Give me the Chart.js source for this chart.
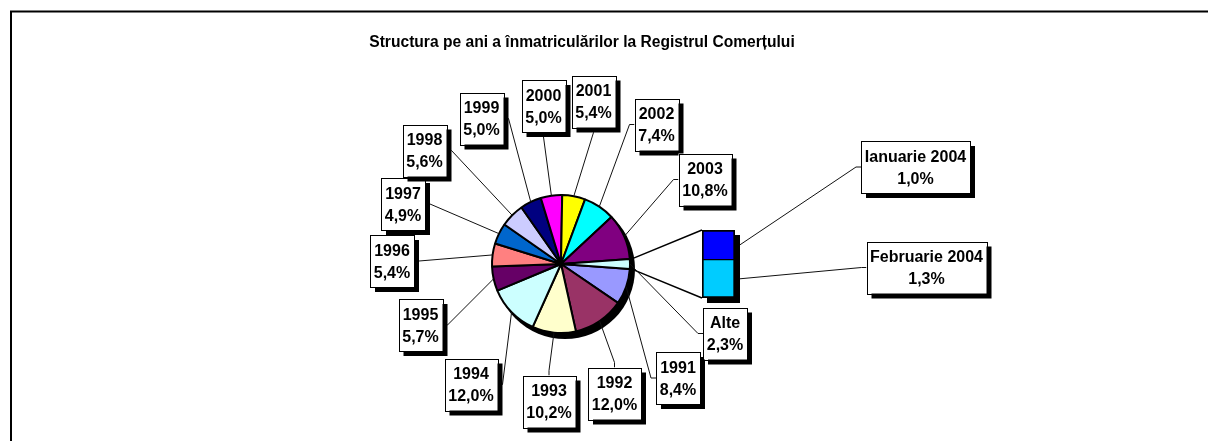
<!DOCTYPE html>
<html>
<head>
<meta charset="utf-8">
<script src="https://cdn.jsdelivr.net/npm/chart.js@4"></script>
<style>
  html, body { margin: 0; padding: 0; background: #fff; }
  #wrap { position: relative; width: 1208px; height: 441px; overflow: hidden; }
  #pieChart { position: absolute; left: 0; top: 0; }
  #barChart { position: absolute; left: 700px; top: 228px; }
</style>
</head>
<body>
<div id="wrap">
  <canvas id="pieChart" width="1208" height="441"></canvas>
  <canvas id="barChart" width="46" height="80"></canvas>
</div>
<script>
const chartTitle = 'Structura pe ani a înmatriculărilor la Registrul Comerțului';

// pie: years + the "Alte" slice that is broken out into the bar
const pieLabels = ['1991', '1992', '1993', '1994', '1995', '1996', '1997',
                   '1998', '1999', '2000', '2001', '2002', '2003', 'Alte'];
const pieValues = [8.4, 12.0, 10.2, 12.0, 5.7, 5.4, 4.9, 5.6, 5.0, 5.0, 5.4, 7.4, 10.8, 2.3];

// bar of pie: what "Alte" is made of
const barLabels = ['Ianuarie 2004', 'Februarie 2004'];
const barValues = [1.0, 1.3];

const pieColors = ['#9999FF', '#993366', '#FFFFCC', '#CCFFFF', '#660066', '#FF8080', '#0066CC',
                   '#CCCCFF', '#000080', '#FF00FF', '#FFFF00', '#00FFFF', '#800080', '#CCFFFF'];
const barColors = ['#0000FF', '#00CCFF'];

// label box centres (canvas px)
const boxPos = {
  '1991': [678, 378], '1992': [614.5, 393.5], '1993': [549, 401.5], '1994': [471, 384.5],
  '1995': [420.5, 325], '1996': [392, 261], '1997': [403, 204], '1998': [424.5, 150.5],
  '1999': [481.5, 118.5], '2000': [543.5, 106], '2001': [593.5, 101.5], '2002': [656.5, 124.5],
  '2003': [705, 179.5], 'Alte': [725, 333.5],
  'Ianuarie 2004': [915.5, 167], 'Februarie 2004': [926.5, 267.5]
};

const FONT = '"Liberation Sans", Arial, sans-serif';
const fmt = v => v.toFixed(1).replace('.', ',') + '%';

const total = pieValues.reduce((a, b) => a + b, 0);
// Excel puts the split-off slice at 3 o'clock
const otherDeg = pieValues[pieValues.length - 1] / total * 360;
const pieRotation = 90 + otherDeg / 2;

// ---------- bar (second plot) ----------
const barShadow = {
  id: 'barShadow',
  beforeDatasetsDraw(chart) {
    const els = chart.data.datasets.map((_, i) => chart.getDatasetMeta(i).data[0]);
    const top = Math.min(...els.map(e => e.y));
    const bottom = Math.max(...els.map(e => e.base));
    const e = els[0];
    const ctx = chart.ctx;
    ctx.save();
    ctx.fillStyle = '#000';
    ctx.fillRect(e.x - e.width / 2 + 5, top + 5, e.width, bottom - top);
    ctx.restore();
  }
};

const barDatasets = barLabels.map((label, i) => ({
  label: label,
  data: [barValues[i]],
  backgroundColor: barColors[i],
  borderColor: '#000',
  borderWidth: i === 0 ? { top: 2, bottom: 1, left: 2, right: 2 } : { top: 1, bottom: 2, left: 2, right: 2 },
  borderSkipped: false,
  barPercentage: 1,
  categoryPercentage: 1
})).reverse(); // first label sits on top of the stack

const barChart = new Chart(document.getElementById('barChart'), {
  type: 'bar',
  data: { labels: ['2004'], datasets: barDatasets },
  options: {
    responsive: false,
    animation: false,
    events: [],
    layout: { padding: { left: 2, top: 2, right: 11, bottom: 10 } },
    plugins: { legend: { display: false }, tooltip: { enabled: false } },
    scales: {
      x: { stacked: true, display: false },
      y: { stacked: true, display: false, min: 0, max: barValues.reduce((a, b) => a + b, 0) }
    }
  },
  plugins: [barShadow]
});

// ---------- pie ----------
function attach(box, px, py) {
  if (px < box.l) return [[box.l - 5, box.cy], [box.l, box.cy]];
  if (px > box.r) return [[box.r + 5, box.cy], [box.r, box.cy]];
  if (py < box.t) return [[box.cx, box.t - 5], [box.cx, box.t]];
  return [[box.cx, box.b + 5], [box.cx, box.b]];
}

function makeBox(ctx, label, value) {
  const lines = [label, fmt(value)];
  const w = Math.ceil(Math.max(...lines.map(s => ctx.measureText(s).width))) + 7;
  const h = 52;
  const [cx, cy] = boxPos[label];
  return { lines, cx, cy, l: cx - w / 2, r: cx + w / 2, t: cy - h / 2, b: cy + h / 2, w, h };
}

const frameAndTitle = {
  id: 'frameAndTitle',
  beforeDraw(chart) {
    const ctx = chart.ctx;
    ctx.save();
    ctx.strokeStyle = '#000';
    ctx.lineWidth = 2;
    ctx.strokeRect(11, 11.5, 1400, 600);
    ctx.fillStyle = '#000';
    ctx.font = 'bold 15.6px ' + FONT;
    ctx.textAlign = 'center';
    ctx.textBaseline = 'alphabetic';
    ctx.fillText(chartTitle, 582, 47);
    ctx.restore();
  }
};

const pieShadow = {
  id: 'pieShadow',
  beforeDatasetsDraw(chart) {
    const a = chart.getDatasetMeta(0).data[0];
    const ctx = chart.ctx;
    ctx.save();
    ctx.fillStyle = '#000';
    ctx.beginPath();
    ctx.arc(a.x + 4, a.y + 5, a.outerRadius + 1, 0, Math.PI * 2);
    ctx.fill();
    ctx.restore();
  }
};

const callouts = {
  id: 'callouts',
  afterDraw(chart) {
    const ctx = chart.ctx;
    const arcs = chart.getDatasetMeta(0).data;
    ctx.save();
    ctx.font = 'bold 16px ' + FONT;

    const boxes = [];
    const leaders = [];

    // leaders from the pie slices
    arcs.forEach((a, i) => {
      const mid = (a.startAngle + a.endAngle) / 2;
      const px = a.x + Math.cos(mid) * a.outerRadius;
      const py = a.y + Math.sin(mid) * a.outerRadius;
      const box = makeBox(ctx, pieLabels[i], pieValues[i]);
      boxes.push(box);
      leaders.push([[px, py], ...attach(box, px, py)]);
    });

    // bar segments and their labels
    const bc = barChart.canvas;
    const ox = bc.offsetLeft, oy = bc.offsetTop;
    const segs = barLabels.map(l => {
      const idx = barChart.data.datasets.findIndex(d => d.label === l);
      return barChart.getDatasetMeta(idx).data[0];
    });
    segs.forEach((e, i) => {
      const px = ox + e.x + e.width / 2 + 5;
      const py = oy + (e.y + e.base) / 2;
      const box = makeBox(ctx, barLabels[i], barValues[i]);
      boxes.push(box);
      leaders.push([[px, py], ...attach(box, px, py)]);
    });

    // pie -> bar connectors
    const other = arcs[arcs.length - 1];
    const e0 = segs[0];
    const barLeft = ox + e0.x - e0.width / 2;
    const barTop = oy + Math.min(...segs.map(e => e.y));
    const barBottom = oy + Math.max(...segs.map(e => e.base));
    ctx.strokeStyle = '#000';
    ctx.lineWidth = 1.5;
    ctx.beginPath();
    ctx.moveTo(other.x + Math.cos(other.startAngle) * (other.outerRadius + 2),
               other.y + Math.sin(other.startAngle) * (other.outerRadius + 2));
    ctx.lineTo(barLeft, barTop);
    ctx.moveTo(other.x + Math.cos(other.endAngle) * (other.outerRadius + 2),
               other.y + Math.sin(other.endAngle) * (other.outerRadius + 2));
    ctx.lineTo(barLeft, barBottom);
    ctx.stroke();

    // thin leader lines
    ctx.lineWidth = 1;
    ctx.strokeStyle = '#111';
    leaders.forEach(pts => {
      ctx.beginPath();
      ctx.moveTo(pts[0][0], pts[0][1]);
      pts.slice(1).forEach(p => ctx.lineTo(p[0], p[1]));
      ctx.stroke();
    });

    // boxes
    boxes.forEach(b => {
      ctx.fillStyle = '#000';
      ctx.fillRect(b.l + 5, b.t + 5, b.w, b.h);
      ctx.fillStyle = '#fff';
      ctx.fillRect(b.l, b.t, b.w, b.h);
      ctx.strokeStyle = '#000';
      ctx.lineWidth = 1;
      ctx.strokeRect(Math.round(b.l) + 0.5, Math.round(b.t) + 0.5, Math.round(b.w), Math.round(b.h));
      ctx.fillStyle = '#000';
      ctx.textAlign = 'center';
      ctx.textBaseline = 'alphabetic';
      ctx.fillText(b.lines[0], b.cx, b.cy - 5.3);
      ctx.fillText(b.lines[1], b.cx, b.cy + 16.7);
    });
    ctx.restore();
  }
};

const pieChart = new Chart(document.getElementById('pieChart'), {
  type: 'pie',
  data: {
    labels: pieLabels,
    datasets: [{
      data: pieValues,
      backgroundColor: pieColors,
      borderColor: '#000',
      borderWidth: 2
    }]
  },
  options: {
    responsive: false,
    animation: false,
    events: [],
    rotation: pieRotation,
    radius: 69,
    layout: { padding: { left: 492, right: 578, top: 195, bottom: 108 } },
    plugins: { legend: { display: false }, tooltip: { enabled: false } }
  },
  plugins: [frameAndTitle, pieShadow, callouts]
});
</script>
</body>
</html>
